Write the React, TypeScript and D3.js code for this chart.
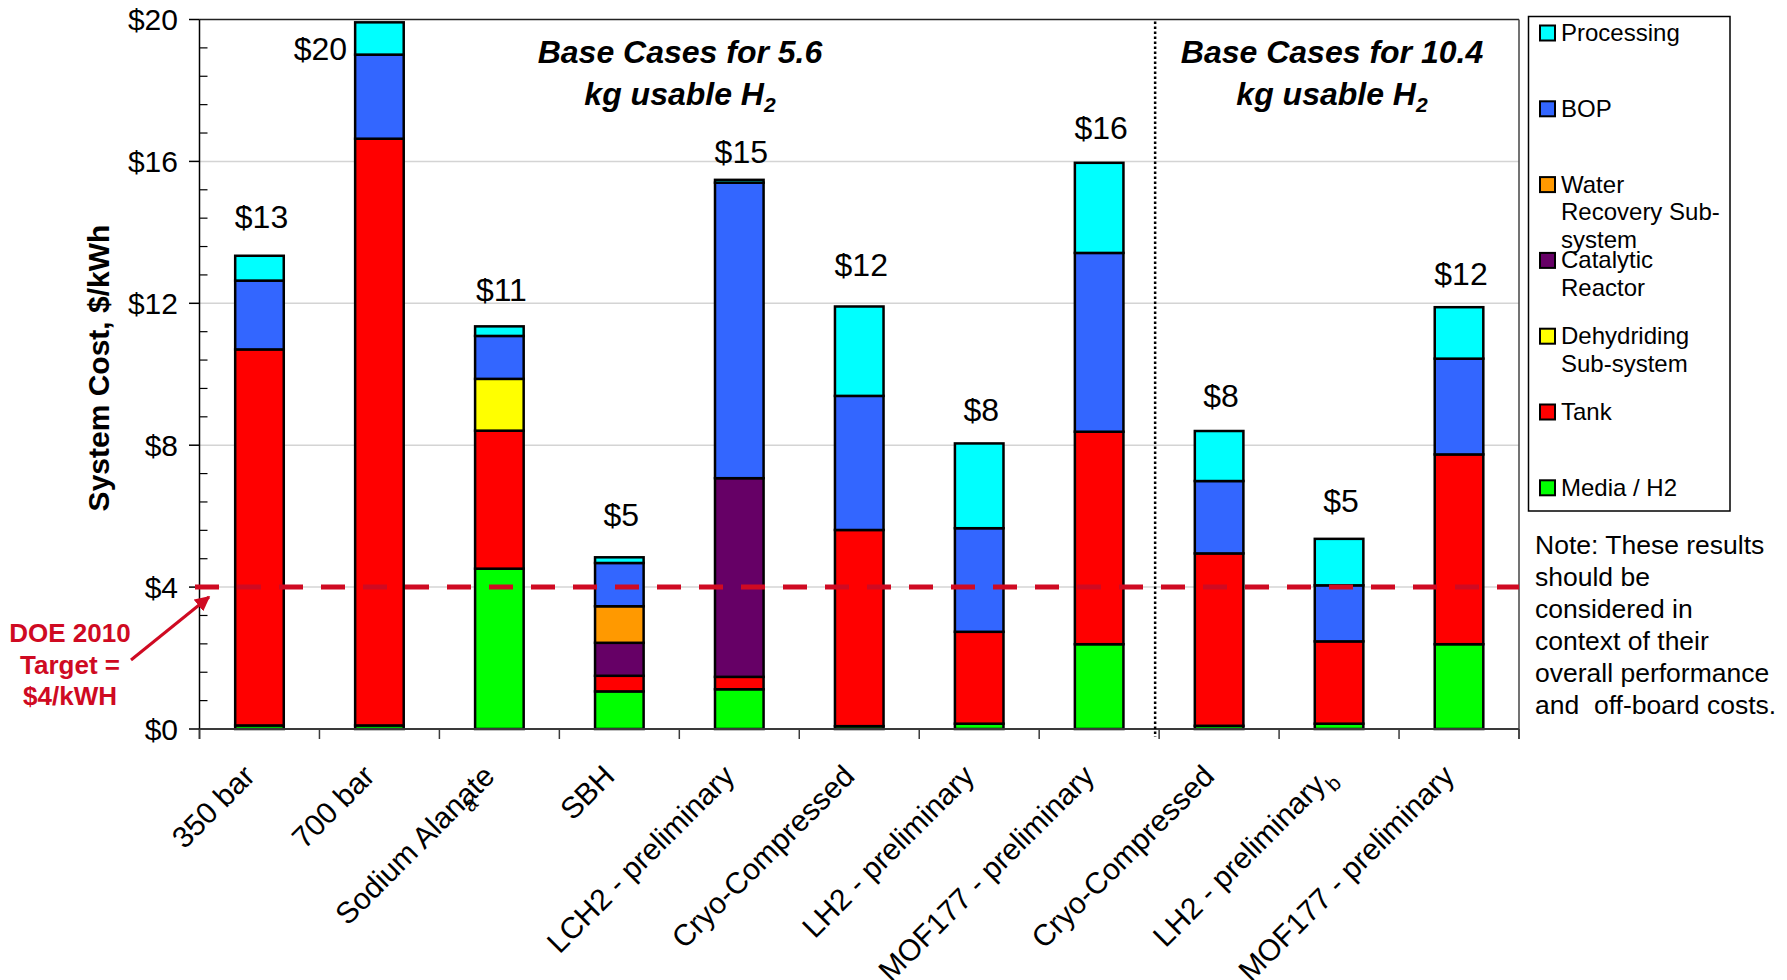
import React from "react";
import * as d3 from "d3";

// Storage systems, left group 5.6 kg usable H2, right group 10.4 kg usable H2
const categories = [
  "350 bar",
  "700 bar",
  "Sodium Alanate",
  "SBH",
  "LCH2 - preliminary",
  "Cryo-Compressed",
  "LH2 - preliminary",
  "MOF177 - preliminary",
  "Cryo-Compressed",
  "LH2 - preliminary",
  "MOF177 - preliminary",
];
const footnoteMarks = ["", "", "a", "", "", "", "", "", "", "b", ""];

// Cost components, $/kWh (stacked bottom to top)
const mediaH2 = [0.1, 0.1, 4.52, 1.06, 1.12, 0.08, 0.15, 2.39, 0.09, 0.15, 2.39];
const tank = [10.6, 16.54, 3.89, 0.44, 0.35, 5.53, 2.59, 5.99, 4.86, 2.32, 5.35];
const dehydriding = [0, 0, 1.46, 0, 0, 0, 0, 0, 0, 0, 0];
const catalytic = [0, 0, 0, 0.93, 5.6, 0, 0, 0, 0, 0, 0];
const waterRecovery = [0, 0, 0, 1.03, 0, 0, 0, 0, 0, 0, 0];
const bop = [1.94, 2.37, 1.21, 1.22, 8.33, 3.78, 2.92, 5.04, 2.04, 1.58, 2.7];
const processing = [0.7, 0.91, 0.27, 0.16, 0.08, 2.52, 2.39, 2.54, 1.41, 1.31, 1.45];

const seriesKeys = ["media", "tank", "dehydriding", "catalytic", "water", "bop", "processing"];
const seriesValues = [mediaH2, tank, dehydriding, catalytic, waterRecovery, bop, processing];
const seriesColors = ["#00FF00", "#FF0000", "#FFFF00", "#660066", "#FF9900", "#3366FF", "#00FFFF"];
const legendLabels = [
  ["Media / H2"],
  ["Tank"],
  ["Dehydriding", "Sub-system"],
  ["Catalytic", "Reactor"],
  ["Water", "Recovery Sub-", "system"],
  ["BOP"],
  ["Processing"],
];

const yTicks = [0, 4, 8, 12, 16, 20];
const targetValue = 4;
const targetLabel = ["DOE 2010", "Target =", "$4/kWH"];
const groupTitles = [
  { first: "Base Cases for 5.6", second: "kg usable H" },
  { first: "Base Cases for 10.4", second: "kg usable H" },
];
const noteLines = [
  "Note: These results",
  "should be",
  "considered in",
  "context of their",
  "overall performance",
  "and\u00a0 off-board costs.",
];

// Layout
const W = 1787;
const H = 980;
const left = 199.5;
const right = 1519;
const top = 19.5;
const bottom = 729;
const FONT = "'Liberation Sans', Arial, Helvetica, sans-serif";
const TARGET_RED = "#CF0A22";
const titleCenters = [680, 1332];
// distance between each value label baseline and its bar top
const labelGap = [28, 38, 25, 31, 17, 30, 22, 24, 24, 27, 22];
const labelBeside = [false, true, false, false, false, false, false, false, false, false, false];

export default function App() {
  const n = categories.length;
  const x = d3.scaleBand<number>().domain(d3.range(n)).range([left, right]).padding(0);
  const y = d3.scaleLinear().domain([0, 20]).range([bottom, top]);
  const bw = x.bandwidth() * 0.405;

  const table = d3.range(n).map((i) => {
    const row: Record<string, number> = {};
    seriesKeys.forEach((k, s) => (row[k] = seriesValues[s][i]));
    return row;
  });
  const stacked = d3.stack<Record<string, number>>().keys(seriesKeys)(table);
  const totals = d3.range(n).map((i) => d3.sum(seriesValues, (s) => s[i]));

  const minorTicks = d3.range(0, 20.001, 0.8).filter((v) => Math.abs(v / 4 - Math.round(v / 4)) > 1e-6);
  const boundaries = d3.range(n + 1).map((i) => left + i * x.step());
  const sepX = boundaries[8] - 4;
  const ty = y(targetValue);

  return (
    <svg
      width={W}
      height={H}
      viewBox={`0 0 ${W} ${H}`}
      style={{ position: "absolute", left: 0, top: 0, background: "#fff" }}
      fontFamily={FONT}
    >
      <defs>
        <marker id="arrowHead" viewBox="0 0 10 10" refX="9" refY="5" markerWidth="5" markerHeight="5" orient="auto">
          <path d="M0,0 L10,5 L0,10 z" fill={TARGET_RED} />
        </marker>
      </defs>
      <rect x={0} y={0} width={W} height={H} fill="#fff" />

      {/* gridlines */}
      {yTicks
        .filter((v) => v > 0 && v < 20)
        .map((v) => (
          <line key={"g" + v} x1={left} x2={right} y1={y(v)} y2={y(v)} stroke="#D4D4D4" strokeWidth={1.5} />
        ))}

      {/* plot frame top and right */}
      <line x1={left} x2={right} y1={top} y2={top} stroke="#222" strokeWidth={1.5} />
      <line x1={right} x2={right} y1={top} y2={bottom + 10} stroke="#444" strokeWidth={1.5} />

      {/* stacked bars */}
      {stacked.map((layer, s) => (
        <g key={layer.key}>
          {layer.map((d, i) =>
            d[1] - d[0] > 0 ? (
              <rect
                key={i}
                x={(x(i) as number) + (x.bandwidth() - bw) / 2}
                y={y(d[1])}
                width={bw}
                height={y(d[0]) - y(d[1])}
                fill={seriesColors[s]}
                stroke="#000"
                strokeWidth={2.5}
              />
            ) : null
          )}
        </g>
      ))}

      {/* y axis */}
      <line x1={left} x2={left} y1={top} y2={bottom + 10} stroke="#000" strokeWidth={1.5} />
      {yTicks.map((v) => (
        <g key={"t" + v}>
          <line x1={left - 10.5} x2={left} y1={y(v)} y2={y(v)} stroke="#000" strokeWidth={1.5} />
          <text x={178} y={y(v)} dy="0.36em" textAnchor="end" fontSize={30} fill="#000">
            {"$" + v}
          </text>
        </g>
      ))}
      {minorTicks.map((v) => (
        <line key={"m" + v} x1={left} x2={left + 8} y1={y(v)} y2={y(v)} stroke="#000" strokeWidth={1.2} />
      ))}
      <text
        transform={`translate(108.5, 368) rotate(-90)`}
        textAnchor="middle"
        fontSize={30}
        fontWeight="bold"
        fill="#000"
      >
        System Cost, $/kWh
      </text>

      {/* x axis */}
      <line x1={left} x2={right} y1={bottom} y2={bottom} stroke="#3a3a3a" strokeWidth={2} />
      {boundaries.map((bx, i) => (
        <line key={"xt" + i} x1={bx} x2={bx} y1={bottom} y2={bottom + 10} stroke="#3a3a3a" strokeWidth={1.5} />
      ))}
      {categories.map((c, i) => {
        const cx = (x(i) as number) + x.bandwidth() / 2;
        const mark = footnoteMarks[i];
        const tf = `translate(${cx - 3}, ${bottom + 49}) rotate(-45)`;
        if (mark === "a") {
          return (
            <g key={"xl" + i}>
              <text transform={tf} textAnchor="end" fontSize={30} fill="#000">
                {c}
              </text>
              <text transform={tf} x={-43} y={7} textAnchor="start" fontSize={21} fill="#000">
                {mark}
              </text>
            </g>
          );
        }
        return (
          <text key={"xl" + i} transform={tf} textAnchor="end" fontSize={30} fill="#000">
            {c}
            {mark ? (
              <tspan fontSize={21} dx={1} dy={9}>
                {mark}
              </tspan>
            ) : null}
          </text>
        );
      })}

      {/* group separator */}
      <line
        x1={sepX}
        x2={sepX}
        y1={top + 2}
        y2={bottom + 8}
        stroke="#000"
        strokeWidth={2.5}
        strokeDasharray="2.5 2.5"
      />

      {/* group titles */}
      {groupTitles.map((g, k) => (
        <g key={"gt" + k} fontWeight="bold" fontStyle="italic" fontSize={32} fill="#000" textAnchor="middle">
          <text x={titleCenters[k]} y={63}>
            {g.first}
          </text>
          <text x={titleCenters[k]} y={105}>
            {g.second}
            <tspan fontSize={21} dy={7}>
              2
            </tspan>
          </text>
        </g>
      ))}

      {/* DOE target line */}
      <line
        x1={195}
        x2={right}
        y1={ty}
        y2={ty}
        stroke={TARGET_RED}
        strokeWidth={5}
        strokeDasharray="24 18"
      />
      <line x1={131} y1={660} x2={209} y2={597} stroke={TARGET_RED} strokeWidth={3} markerEnd="url(#arrowHead)" />
      {targetLabel.map((t, k) => (
        <text
          key={"dl" + k}
          x={70}
          y={642 + k * 31.5}
          textAnchor="middle"
          fontSize={26}
          fontWeight="bold"
          fill={TARGET_RED}
        >
          {t}
        </text>
      ))}

      {/* value labels */}
      {totals.map((t, i) => {
        const bx = (x(i) as number) + x.bandwidth() / 2;
        const label = "$" + Math.round(t);
        if (labelBeside[i]) {
          return (
            <text key={"vl" + i} x={bx - bw / 2 - 8} y={y(t) + labelGap[i]} textAnchor="end" fontSize={32} fill="#000">
              {label}
            </text>
          );
        }
        return (
          <text key={"vl" + i} x={bx + 2} y={y(t) - labelGap[i]} textAnchor="middle" fontSize={32} fill="#000">
            {label}
          </text>
        );
      })}

      {/* legend */}
      <rect x={1528.5} y={16.5} width={201.5} height={494.5} fill="#fff" stroke="#000" strokeWidth={1.5} />
      {d3.range(seriesKeys.length).map((k) => {
        const s = seriesKeys.length - 1 - k;
        const by = 41 + k * 75.8;
        return (
          <g key={"lg" + s}>
            <rect x={1540} y={by - 15.5} width={15} height={15} fill={seriesColors[s]} stroke="#000" strokeWidth={2} />
            {legendLabels[s].map((line, j) => (
              <text key={j} x={1561} y={by + j * 27.5} fontSize={24} fill="#000">
                {line}
              </text>
            ))}
          </g>
        );
      })}

      {/* note */}
      {noteLines.map((l, k) => (
        <text key={"nt" + k} x={1535} y={554 + k * 32} fontSize={26.5} fill="#000">
          {l}
        </text>
      ))}
    </svg>
  );
}
